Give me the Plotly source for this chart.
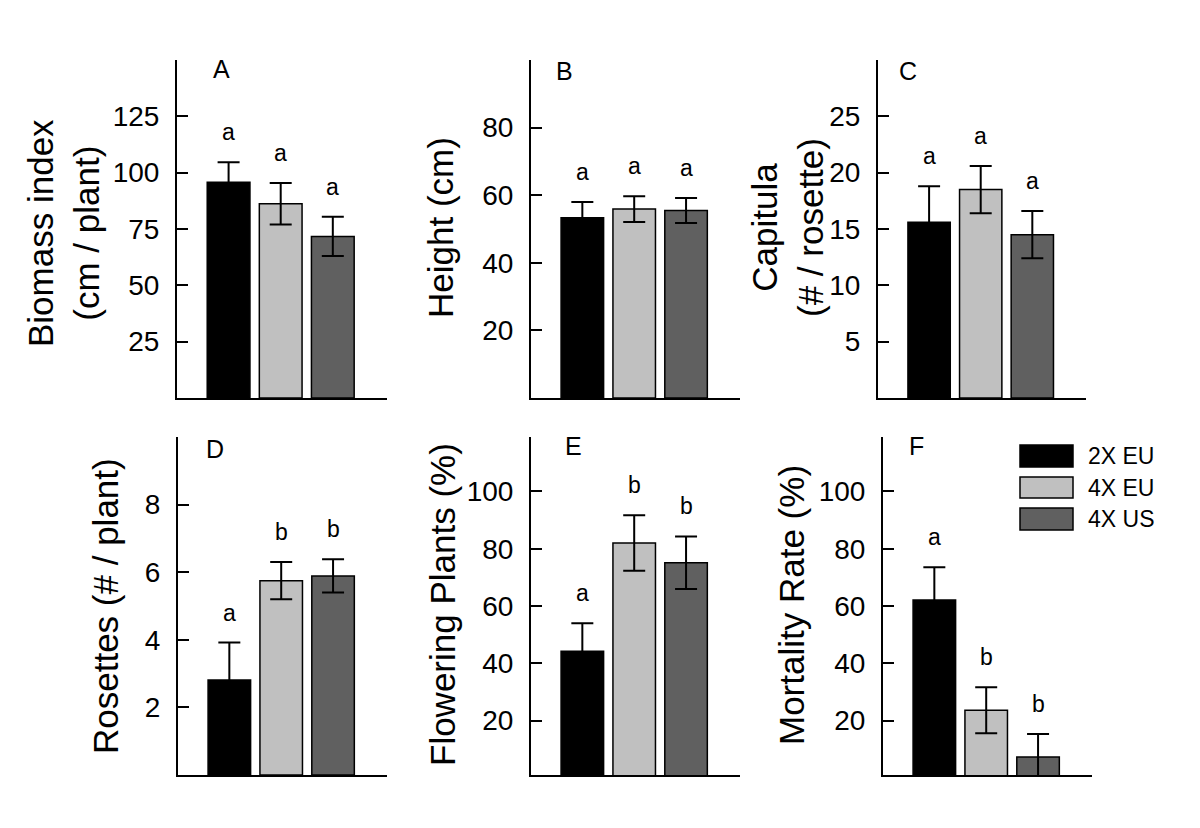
import plotly.graph_objects as go

# ---------------- data ----------------
groups = ["2X EU", "4X EU", "4X US"]
group_colors = ["#000000", "#c0c0c0", "#606060"]
panel_labels = ["A", "B", "C", "D", "E", "F"]
y_titles = ["Biomass index<br>(cm / plant)", "Height (cm)", "Capitula<br>(# / rosette)",
            "Rosettes (# / plant)", "Flowering Plants (%)", "Mortality Rate (%)"]

biomass_mean = [95.7, 86.2, 71.7]
biomass_se = [8.9, 9.2, 8.7]
biomass_letters = ["a", "a", "a"]

height_mean = [53.3, 55.9, 55.5]
height_se = [4.7, 3.8, 3.7]
height_letters = ["a", "a", "a"]

capitula_mean = [15.6, 18.5, 14.5]
capitula_se = [3.2, 2.1, 2.1]
capitula_letters = ["a", "a", "a"]

rosettes_mean = [2.81, 5.75, 5.89]
rosettes_se = [1.11, 0.55, 0.49]
rosettes_letters = ["a", "b", "b"]

flowering_mean = [44.2, 82.0, 75.1]
flowering_se = [9.8, 9.7, 9.2]
flowering_letters = ["a", "b", "b"]

mortality_mean = [62.1, 23.6, 7.3]
mortality_se = [11.4, 8.0, 8.0]
mortality_letters = ["a", "b", "b"]

y_tickvals = [[25, 50, 75, 100, 125], [20, 40, 60, 80], [5, 10, 15, 20, 25],
              [2, 4, 6, 8], [20, 40, 60, 80, 100], [20, 40, 60, 80, 100]]
y_ranges = [[0, 150], [0, 100], [0, 30], [0, 10], [1, 119], [1, 119]]

means = [biomass_mean, height_mean, capitula_mean, rosettes_mean, flowering_mean, mortality_mean]
ses = [biomass_se, height_se, capitula_se, rosettes_se, flowering_se, mortality_se]
letters = [biomass_letters, height_letters, capitula_letters, rosettes_letters,
           flowering_letters, mortality_letters]

# ---------------- layout geometry (pixels, page coordinates) ----------------
OFF = 8  # default page margin of the html body
W, H = 1200 - 2 * OFF, 828 - 2 * OFF
FONT = "Liberation Sans, Arial, Helvetica, sans-serif"
px_domains = [  # (x0, x1, ytop, ybottom)
    (177, 387, 60, 398),
    (531, 740, 60, 398),
    (878, 1086, 60, 398),
    (178, 387, 437, 775),
    (531, 740, 437, 775),
    (883, 1092, 437, 775),
]
panel_label_pos = [(221, 69), (564, 71), (908, 71), (215, 449), (573, 446), (916, 446)]
title_pos = [(63, 233), (440, 228), (787, 228), (105, 606), (442, 605), (791, 605)]


def fx(p):
    return (p - OFF) / W


def fy(p):
    return 1 - (p - OFF) / H


fig = go.Figure()
layout = dict(width=W, height=H, margin=dict(l=0, r=0, t=0, b=0),
              paper_bgcolor="white", plot_bgcolor="white", showlegend=False,
              font=dict(family=FONT, color="black"))
annotations = []
shapes = []

for i in range(6):
    n = "" if i == 0 else str(i + 1)
    x0, x1, yt, yb = px_domains[i]
    fig.add_trace(go.Bar(
        x=list(range(len(groups))), y=means[i], name="",
        xaxis="x" + n, yaxis="y" + n, width=0.82,
        marker=dict(color=group_colors, line=dict(color="black", width=1.5)),
        error_y=dict(type="data", array=ses[i], visible=True, color="black",
                     thickness=2, width=11),
        hoverinfo="y"))
    layout["xaxis" + n] = dict(domain=[fx(x0), fx(x1)], anchor="y" + n,
                               range=[-0.99, 3.04], showticklabels=False, ticks="",
                               showgrid=False, zeroline=False, showline=True,
                               linecolor="black", linewidth=2, fixedrange=True)
    layout["yaxis" + n] = dict(domain=[fy(yb), fy(yt)], anchor="x" + n,
                               range=y_ranges[i], tickvals=y_tickvals[i], ticks="inside",
                               ticklen=11, tickwidth=2, tickcolor="black",
                               showgrid=False, zeroline=False, showline=True,
                               linecolor="black", linewidth=2,
                               tickfont=dict(size=28, family=FONT, color="black"),
                               ticklabelstandoff=10)
    # significance letters
    for j in range(len(groups)):
        annotations.append(dict(x=j, y=means[i][j] + ses[i][j], xref="x" + n, yref="y" + n,
                                text=letters[i][j], showarrow=False, yanchor="middle",
                                yshift=30, font=dict(size=23, family=FONT, color="black")))
    # panel label
    lx, ly = panel_label_pos[i]
    annotations.append(dict(x=fx(lx), y=fy(ly), xref="paper", yref="paper",
                            text=panel_labels[i], showarrow=False, xanchor="center",
                            yanchor="middle", font=dict(size=25, family=FONT, color="black")))
    # y-axis title
    tx, ty = title_pos[i]
    annotations.append(dict(x=fx(tx), y=fy(ty), xref="paper", yref="paper",
                            text=y_titles[i], showarrow=False, textangle=-90,
                            xanchor="center", yanchor="middle",
                            font=dict(size=35, family=FONT, color="black")))

# legend (drawn in panel F corner)
leg_boxes = [(445, 467), (477, 498), (508, 530)]
for k, g in enumerate(groups):
    t, b = leg_boxes[k]
    shapes.append(dict(type="rect", xref="paper", yref="paper",
                       x0=fx(1020), x1=fx(1073), y0=fy(b), y1=fy(t),
                       fillcolor=group_colors[k], line=dict(color="black", width=1.5)))
    annotations.append(dict(x=fx(1086), y=fy((t + b) / 2), xref="paper", yref="paper",
                            text=g, showarrow=False, xanchor="left", yanchor="middle",
                            font=dict(size=23, family=FONT, color="black")))

layout["annotations"] = annotations
layout["shapes"] = shapes
fig.update_layout(**layout)
fig.write_html("out.html")
